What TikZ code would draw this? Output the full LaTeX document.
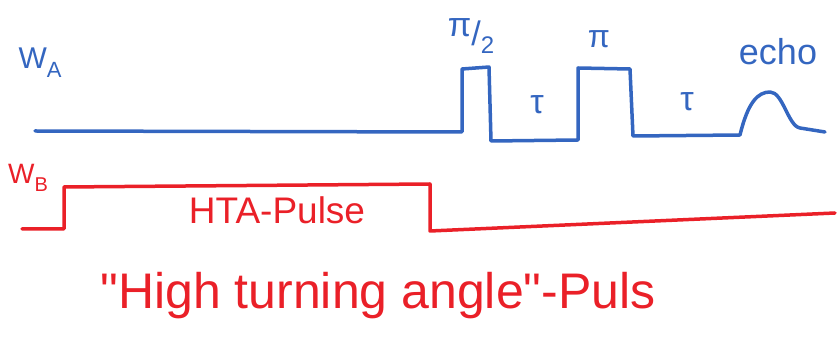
\documentclass[tikz,border=0pt]{standalone}
\usepackage{fontspec}
\setmainfont{Liberation Sans}
\newfontfamily\qfont{Liberation Sans}
\definecolor{pblue}{RGB}{52,102,192}
\definecolor{pred}{RGB}{234,32,40}
\begin{document}
\begin{tikzpicture}[x=1pt,y=-1pt,
  sig/.style={line width=3.5pt,line join=round,line cap=round},
  btxt/.style={text=pblue,inner sep=0pt},
  rtxt/.style={text=pred,inner sep=0pt}]
\useasboundingbox (0,0) rectangle (839,344);
% blue signal W_A
\draw[sig,pblue] (35,131) -- (462,132) -- (462,69) -- (489,67) -- (491,141)
  -- (578,140) -- (578,68) -- (630,69) -- (633,136) -- (740,135)
  .. controls (748,102) and (758,92) .. (770,92)
  .. controls (783,92) and (788,126) .. (800,128) -- (825,132);
% red signal W_B
\draw[sig,pred] (22,229) -- (64,229) -- (64,187) -- (430,184) -- (430,231) -- (835,213);
% labels
\node[btxt,font=\fontsize{30}{30}\selectfont] (wa) at (40,63) {W\raisebox{-0.55ex}{\fontsize{22}{22}\selectfont A}};
\node[rtxt,font=\fontsize{28}{28}\selectfont] (wb) at (28,178) {W\raisebox{-0.55ex}{\fontsize{20}{20}\selectfont B}};
\node[btxt,font=\fontsize{34}{34}\selectfont] (pihalf) at (471,36) {\raisebox{0.5ex}{π}/\raisebox{-0.45ex}{\fontsize{24}{24}\selectfont 2}};
\node[btxt,font=\fontsize{32}{32}\selectfont] (pi) at (599,39) {π};
\node[btxt,font=\fontsize{34}{34}\selectfont] (tau1) at (537,105) {τ};
\node[btxt,font=\fontsize{34}{34}\selectfont] (tau2) at (687,102) {τ};
\node[btxt,font=\fontsize{36}{36}\selectfont] (echo) at (778,52) {echo};
\node[rtxt,font=\fontsize{37}{37}\selectfont] (hta) at (277,210) {HTA-Pulse};
\node[rtxt,font=\fontsize{50}{50}\selectfont] (htext) at (378,296) {{\qfont "}High turning angle{\qfont "}-Puls};
\end{tikzpicture}
\end{document}
